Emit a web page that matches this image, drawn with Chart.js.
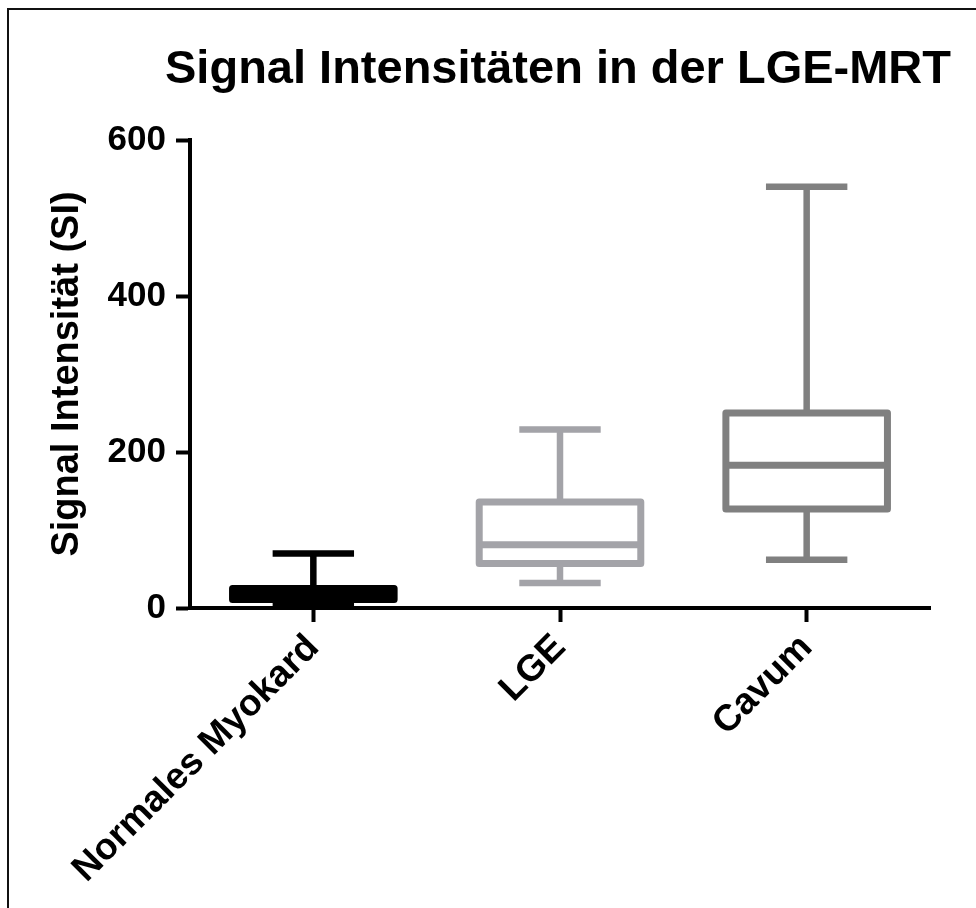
<!DOCTYPE html>
<html>
<head>
<meta charset="utf-8">
<script src="https://cdn.jsdelivr.net/npm/chart.js@4/dist/chart.umd.min.js"></script>
<style>
  html, body { margin: 0; padding: 0; background: #fff; overflow: hidden; }
  #wrap { position: absolute; left: 0; top: 0; width: 976px; height: 908px; }
  #frame { position: absolute; left: 7px; top: 8px; width: 1200px; height: 1200px;
           border-left: 2px solid #111; border-top: 2px solid #111; pointer-events: none; }
</style>
</head>
<body>
<div id="wrap"><canvas id="c" width="976" height="908"></canvas></div>
<div id="frame"></div>
<script>
const categories = ["Normales Myokard", "LGE", "Cavum"];
const minVals    = [5, 32, 62];
const q1Vals     = [11, 57, 127];
const medianVals = [17, 81, 183];
const q3Vals     = [25, 136, 250];
const maxVals    = [70, 229, 540];
const boxColors  = ["#000000", "#A3A3A8", "#808080"];
const yTicks     = [0, 200, 400, 600];
const titleText  = "Signal Intensitäten in der LGE-MRT";
const yTitleText = "Signal Intensität (SI)";

const FONT = "'Liberation Sans', Arial, Helvetica, sans-serif";

const boxPlotPlugin = {
  id: 'boxPlot',
  afterDatasetsDraw(chart) {
    const ctx = chart.ctx;
    const xs = chart.scales.x, ys = chart.scales.y;
    const step = xs.getPixelForValue(1) - xs.getPixelForValue(0);
    const boxW = step * 0.655;
    const capW = step * 0.33;
    ctx.save();
    ctx.lineCap = 'butt';
    for (let i = 0; i < categories.length; i++) {
      const cx = xs.getPixelForValue(i);
      const yMin = ys.getPixelForValue(minVals[i]);
      const yQ1 = ys.getPixelForValue(q1Vals[i]);
      const yMed = ys.getPixelForValue(medianVals[i]);
      const yQ3 = ys.getPixelForValue(q3Vals[i]);
      const yMax = ys.getPixelForValue(maxVals[i]);
      ctx.strokeStyle = boxColors[i];
      ctx.lineWidth = 6.5;
      ctx.lineJoin = 'miter';
      ctx.beginPath();
      ctx.moveTo(cx, yQ3); ctx.lineTo(cx, yMax);
      ctx.moveTo(cx, yQ1); ctx.lineTo(cx, yMin);
      ctx.moveTo(cx - capW / 2, yMax); ctx.lineTo(cx + capW / 2, yMax);
      ctx.moveTo(cx - capW / 2, yMin); ctx.lineTo(cx + capW / 2, yMin);
      ctx.stroke();
      ctx.lineWidth = 7;
      ctx.lineJoin = 'round';
      ctx.fillStyle = '#ffffff';
      ctx.beginPath();
      ctx.rect(cx - boxW / 2, yQ3, boxW, yQ1 - yQ3);
      ctx.fill();
      ctx.stroke();
      ctx.beginPath();
      ctx.moveTo(cx - boxW / 2, yMed); ctx.lineTo(cx + boxW / 2, yMed);
      ctx.stroke();
    }
    ctx.restore();
  }
};

new Chart(document.getElementById('c'), {
  type: 'bar',
  data: { labels: categories, datasets: [] },
  plugins: [boxPlotPlugin],
  options: {
    responsive: false,
    animation: false,
    devicePixelRatio: 1,
    layout: { padding: { left: 0, right: 25, top: 0, bottom: 0 } },
    plugins: {
      legend: { display: false },
      tooltip: { enabled: false },
      title: {
        display: true,
        text: titleText,
        fullSize: true,
        align: 'end',
        color: '#000',
        font: { family: FONT, size: 47, weight: 'bold', lineHeight: 1.2 },
        padding: { top: 42, bottom: 41.6 }
      }
    },
    scales: {
      x: {
        type: 'category',
        offset: true,
        afterFit: s => { s.height = 300; },
        grid: { offset: false, drawOnChartArea: false, drawTicks: true, tickLength: 14, tickWidth: 4, color: '#000' },
        border: { display: true, color: '#000', width: 4 },
        ticks: {
          color: '#000', minRotation: 45, maxRotation: 45, padding: 4,
          font: { family: FONT, size: 37, weight: 'bold' }
        }
      },
      y: {
        type: 'linear',
        min: 0, max: 600,
        afterFit: s => { s.width = 190; },
        afterBuildTicks: s => { s.ticks = yTicks.map(v => ({ value: v })); },
        grid: { drawOnChartArea: false, drawTicks: true, tickLength: 14, tickWidth: 4, color: '#000' },
        border: { display: true, color: '#000', width: 4 },
        ticks: {
          color: '#000', padding: 10,
          font: { family: FONT, size: 35, weight: 'bold' }
        },
        title: {
          display: true,
          text: yTitleText,
          color: '#000',
          font: { family: FONT, size: 38, weight: 'bold', lineHeight: 1.2 },
          padding: { top: 45, bottom: 0 }
        }
      },
      yRight: {
        type: 'linear',
        position: 'right',
        display: true,
        afterFit: s => { s.width = 21; },
        grid: { display: false, drawTicks: false },
        border: { display: false },
        ticks: { display: false }
      }
    }
  }
});
</script>
</body>
</html>
